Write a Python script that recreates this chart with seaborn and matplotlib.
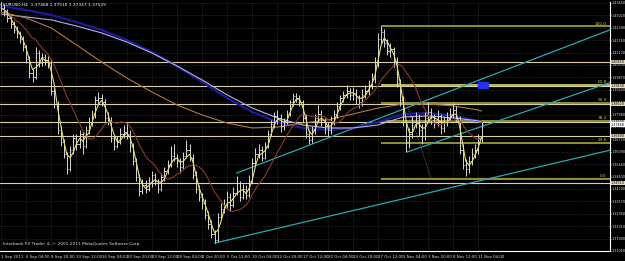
import numpy as np
import pandas as pd
import matplotlib
matplotlib.use("Agg")
import matplotlib.pyplot as plt
import seaborn as sns

# ---------------- data ----------------
x_labels = ["1 Sep 2011", "6 Sep 04:00", "8 Sep 20:00", "13 Sep 12:00", "16 Sep 04:00",
            "20 Sep 20:00", "23 Sep 12:00", "28 Sep 04:00", "2 Oct 20:00", "5 Oct 12:00",
            "10 Oct 04:00", "12 Oct 20:00", "17 Oct 12:00", "20 Oct 04:00", "24 Oct 20:00",
            "27 Oct 12:00", "1 Nov 04:00", "3 Nov 20:00", "8 Nov 12:00", "11 Nov 04:00"]

first_open = 1.4360
closes = [1.4340, 1.4320, 1.4290, 1.4260, 1.4230, 1.4210, 1.4180, 1.4140,
          1.4080, 1.4010, 1.3990, 1.4110, 1.4060, 1.4090, 1.4070, 1.4060,
          1.3920, 1.3850, 1.3720, 1.3660, 1.3600, 1.3520, 1.3620, 1.3680,
          1.3650, 1.3700, 1.3640, 1.3720, 1.3760, 1.3800, 1.3870, 1.3880,
          1.3860, 1.3780, 1.3770, 1.3680, 1.3640, 1.3660, 1.3700, 1.3710,
          1.3700, 1.3640, 1.3560, 1.3480, 1.3410, 1.3440, 1.3420, 1.3450,
          1.3490, 1.3460, 1.3420, 1.3480, 1.3510, 1.3540, 1.3590, 1.3580,
          1.3560, 1.3530, 1.3590, 1.3620, 1.3580, 1.3490, 1.3420, 1.3380,
          1.3350, 1.3290, 1.3240, 1.3190, 1.3160, 1.3280, 1.3320, 1.3340,
          1.3380, 1.3340, 1.3400, 1.3450, 1.3380, 1.3420, 1.3390, 1.3460,
          1.3550, 1.3600, 1.3620, 1.3580, 1.3640, 1.3700, 1.3750, 1.3790,
          1.3780, 1.3740, 1.3760, 1.3800, 1.3860, 1.3890, 1.3880, 1.3860,
          1.3780, 1.3700, 1.3670, 1.3720, 1.3780, 1.3800, 1.3760, 1.3740,
          1.3720, 1.3760, 1.3800, 1.3840, 1.3880, 1.3900, 1.3920, 1.3900,
          1.3910, 1.3880, 1.3860, 1.3900, 1.3920, 1.3950, 1.3980, 1.4050,
          1.4180, 1.4220, 1.4160, 1.4120, 1.4130, 1.4070, 1.3960, 1.3870,
          1.3760, 1.3660, 1.3700, 1.3760, 1.3780, 1.3720, 1.3690, 1.3780,
          1.3810, 1.3770, 1.3760, 1.3790, 1.3730, 1.3760, 1.3780, 1.3800,
          1.3820, 1.3780, 1.3620, 1.3540, 1.3520, 1.3560, 1.3600, 1.3620,
          1.3680, 1.3750]
highs = [1.4375, 1.4360, 1.4335, 1.4310, 1.4275, 1.4250, 1.4225, 1.4195,
         1.4150, 1.4095, 1.4030, 1.4140, 1.4125, 1.4110, 1.4105, 1.4095,
         1.4080, 1.3935, 1.3865, 1.3740, 1.3675, 1.3610, 1.3640, 1.3700,
         1.3700, 1.3720, 1.3715, 1.3740, 1.3785, 1.3820, 1.3890, 1.3915,
         1.3905, 1.3875, 1.3810, 1.3785, 1.3700, 1.3690, 1.3730, 1.3745,
         1.3760, 1.3720, 1.3655, 1.3575, 1.3495, 1.3470, 1.3465, 1.3480,
         1.3510, 1.3500, 1.3470, 1.3500, 1.3530, 1.3565, 1.3640, 1.3650,
         1.3600, 1.3580, 1.3610, 1.3670, 1.3650, 1.3600, 1.3510, 1.3440,
         1.3400, 1.3370, 1.3310, 1.3260, 1.3210, 1.3300, 1.3350, 1.3370,
         1.3410, 1.3400, 1.3430, 1.3485, 1.3460, 1.3445, 1.3440, 1.3490,
         1.3580, 1.3630, 1.3650, 1.3640, 1.3660, 1.3720, 1.3770, 1.3810,
         1.3820, 1.3800, 1.3780, 1.3820, 1.3870, 1.3910, 1.3910, 1.3900,
         1.3870, 1.3800, 1.3720, 1.3740, 1.3800, 1.3845, 1.3820, 1.3780,
         1.3760, 1.3790, 1.3820, 1.3860, 1.3895, 1.3920, 1.3950, 1.3935,
         1.3940, 1.3930, 1.3900, 1.3930, 1.3950, 1.3975, 1.4010, 1.4090,
         1.4210, 1.4247, 1.4235, 1.4180, 1.4160, 1.4140, 1.4090, 1.3980,
         1.3890, 1.3770, 1.3730, 1.3790, 1.3810, 1.3800, 1.3750, 1.3810,
         1.3860, 1.3830, 1.3800, 1.3820, 1.3800, 1.3790, 1.3810, 1.3830,
         1.3855, 1.3840, 1.3790, 1.3650, 1.3570, 1.3590, 1.3630, 1.3650,
         1.3700, 1.3760]
lows = [1.4325, 1.4300, 1.4270, 1.4240, 1.4210, 1.4185, 1.4160, 1.4120,
        1.4060, 1.3985, 1.3965, 1.3980, 1.4040, 1.4045, 1.4050, 1.4035,
        1.3900, 1.3830, 1.3700, 1.3640, 1.3580, 1.3495, 1.3510, 1.3600,
        1.3620, 1.3630, 1.3600, 1.3630, 1.3700, 1.3740, 1.3780, 1.3850,
        1.3840, 1.3760, 1.3745, 1.3660, 1.3620, 1.3630, 1.3650, 1.3680,
        1.3675, 1.3610, 1.3540, 1.3460, 1.3385, 1.3395, 1.3400, 1.3410,
        1.3430, 1.3440, 1.3400, 1.3410, 1.3460, 1.3495, 1.3530, 1.3560,
        1.3530, 1.3500, 1.3520, 1.3580, 1.3560, 1.3470, 1.3400, 1.3360,
        1.3320, 1.3270, 1.3215, 1.3170, 1.3145, 1.3150, 1.3260, 1.3300,
        1.3320, 1.3310, 1.3330, 1.3390, 1.3360, 1.3370, 1.3370, 1.3380,
        1.3450, 1.3540, 1.3580, 1.3560, 1.3570, 1.3630, 1.3690, 1.3730,
        1.3750, 1.3710, 1.3720, 1.3750, 1.3790, 1.3840, 1.3860, 1.3840,
        1.3760, 1.3680, 1.3650, 1.3655, 1.3700, 1.3760, 1.3740, 1.3700,
        1.3690, 1.3700, 1.3745, 1.3780, 1.3820, 1.3860, 1.3880, 1.3870,
        1.3870, 1.3850, 1.3830, 1.3840, 1.3880, 1.3900, 1.3930, 1.3960,
        1.4040, 1.4160, 1.4140, 1.4100, 1.4090, 1.4040, 1.3940, 1.3840,
        1.3740, 1.3610, 1.3630, 1.3680, 1.3730, 1.3690, 1.3650, 1.3670,
        1.3760, 1.3750, 1.3730, 1.3740, 1.3700, 1.3710, 1.3740, 1.3760,
        1.3780, 1.3760, 1.3600, 1.3520, 1.3484, 1.3500, 1.3540, 1.3580,
        1.3600, 1.3660]

# slow moving averages read at each time label (and the last bar)
ma_tan = [1.4319, 1.4289, 1.4238, 1.4152, 1.4065, 1.3984, 1.3913, 1.3847, 1.3796, 1.3755,
          1.3730, 1.3735, 1.3755, 1.3771, 1.3801, 1.3831, 1.3852, 1.3852, 1.3842, 1.3821, 1.3816]
ma_blue = [1.4350, 1.4329, 1.4304, 1.4268, 1.4228, 1.4177, 1.4116, 1.4045, 1.3964, 1.3882,
           1.3811, 1.3760, 1.3730, 1.3720, 1.3730, 1.3760, 1.3801, 1.3806, 1.3791, 1.3766, 1.3760]
ma_lav = [1.4309, 1.4294, 1.4279, 1.4248, 1.4213, 1.4167, 1.4111, 1.4045, 1.3974, 1.3898,
          1.3831, 1.3781, 1.3745, 1.3730, 1.3730, 1.3745, 1.3786, 1.3791, 1.3781, 1.3766, 1.3760]

hlines_price = [1.4065, 1.3943, 1.3852, 1.3760, 1.3689, 1.3451]
fib_high, fib_low = 1.4247, 1.3471
fib_ratios = [1.0, 0.618, 0.5, 0.382, 0.236, 0.0]
fib_names = ["100.0", "61.8", "50.0", "38.2", "23.6", "0.0"]

# trend lines: (bar1, price1, bar2, price2)
trend_lower = (68, 1.3145, 148, 1.3445)
trend_upper = (75, 1.3501, 117.5, 1.3761)
trend_mid = (129.3, 1.3608, 150, 1.3721)

price_ticks = [round(1.3105 + 0.0063 * k, 5) for k in range(21)]
title_text = "EURUSD,H4  1.37468 1.37510 1.37347 1.37529"
copyright_text = "Interbank FX Trader 4, \u00a9 2001-2011 MetaQuotes Software Corp."
current_bid = 1.37468

# ---------------- drawing ----------------
sns.set_theme(style="dark")
FONT = ["Liberation Sans Narrow", "DejaVu Sans"]
plt.rcParams["font.family"] = FONT
FS = 3.1
FSY = 2.45
FSX = 2.8

W, H = 625, 261
fig = plt.figure(figsize=(W / 100, H / 100), dpi=100, facecolor="black")
ax = fig.add_axes([0, 10 / H, 610 / W, 249 / H])
ax.set_facecolor("black")

n = len(closes)
idx = np.arange(n)
opens = [first_open] + closes[:-1]
XMAX = 193.9
ax.set_xlim(-0.35, XMAX)
ax.set_ylim(1.3105, 1.4370)

grid_c = "#4a4a4a"
ax.set_xticks([8 * k for k in range(len(x_labels))])
ax.set_xticklabels(x_labels, ha="left", fontsize=FSX, color="#e0e0e0")
ax.set_yticks(price_ticks)
ax.set_yticklabels([f"{p:.5f}" for p in price_ticks], fontsize=FSY, color="#e0e0e0")
ax.yaxis.tick_right()
ax.tick_params(axis="x", length=2, width=0.6, color="white", pad=0.8)
ax.tick_params(axis="y", length=0.6, width=0.6, color="white", pad=0.2)
ax.grid(True, color=grid_c, linestyle=(0, (1, 2)), linewidth=0.5)
for s in ["top", "left"]:
    ax.spines[s].set_visible(False)
for s in ["right", "bottom"]:
    ax.spines[s].set_color("white")
    ax.spines[s].set_linewidth(0.8)

# horizontal lines
for p in hlines_price:
    ax.axhline(p, color="#d9cfa8", lw=0.8, zorder=2)

# fibonacci
fib_start = 121
for r, nm in zip(fib_ratios, fib_names):
    lvl = fib_low + r * (fib_high - fib_low)
    ax.hlines(lvl, fib_start, XMAX, color="#9a9a3a" if r != 0.618 else "#c8c85a", lw=1.3, zorder=2)
    ax.text(XMAX - 1.0, lvl + 0.0003, nm, fontsize=FS, color="#c8c860", ha="right", va="bottom", zorder=6)
ax.plot([fib_start, 137], [fib_high, fib_low], color="#8a6aa0", lw=0.6, ls=(0, (1, 1.5)), zorder=2)

# trend rays
def ray(t, col):
    x1, p1, x2, p2 = t
    slope = (p2 - p1) / (x2 - x1)
    xs = np.array([x1, XMAX])
    ys = p1 + slope * (xs - x1)
    sns.lineplot(x=xs, y=ys, ax=ax, color=col, lw=0.9, zorder=3)

for t in (trend_lower, trend_upper, trend_mid):
    ray(t, "#2aa8b0")

# OHLC bars
bar_c = "#d8d8d8"
ax.vlines(idx, lows, highs, color=bar_c, lw=0.7, zorder=4)
ax.hlines(opens, idx - 0.4, idx, color=bar_c, lw=0.7, zorder=4)
ax.hlines(closes, idx, idx + 0.4, color=bar_c, lw=0.7, zorder=4)

# moving averages
cs = pd.Series(closes)
ma_fast = cs.rolling(3, min_periods=1).mean()
ma_mid = cs.rolling(12, min_periods=1).mean()
ma_x = [8 * k for k in range(20)] + [n - 1]
sns.lineplot(x=ma_x, y=ma_blue, ax=ax, color="#1c1c9a", lw=1.6, zorder=3)
sns.lineplot(x=ma_x, y=ma_lav, ax=ax, color="#b8b0e0", lw=0.8, zorder=3)
sns.lineplot(x=ma_x, y=ma_tan, ax=ax, color="#b07848", lw=0.8, zorder=3)
sns.lineplot(x=idx, y=ma_mid.values, ax=ax, color="#8b3a2a", lw=0.8, zorder=5)
sns.lineplot(x=idx, y=ma_fast.values, ax=ax, color="#e6e070", lw=0.8, zorder=5)

# blue marker
ax.add_patch(plt.Rectangle((152, 1.3934), 3.2, 0.0030, color="#2233ee", zorder=6))

ax.set_xlabel("")
ax.set_ylabel("")

# price label boxes on the right scale
trans = ax.get_yaxis_transform()
for p in hlines_price:
    ax.text(1.0015, p, f"{p:.5f}", transform=trans, fontsize=FSY, color="black", va="center",
            ha="left", bbox=dict(boxstyle="square,pad=0.1", fc="#e8d8b8", ec="none"), clip_on=False, zorder=7)
ax.text(1.0015, current_bid, f"{current_bid:.5f}", transform=trans, fontsize=FSY, color="black",
        va="center", ha="left", bbox=dict(boxstyle="square,pad=0.1", fc="white", ec="none"),
        clip_on=False, zorder=7)

fig.text(3 / W, 1 - 5 / H, title_text, fontsize=FS, color="white", va="center", ha="left")
fig.text(3 / W, 1 - 244 / H, copyright_text, fontsize=FS, color="#e0e0e0", va="center", ha="left")

fig.savefig("out.png", dpi=100, facecolor="black")
